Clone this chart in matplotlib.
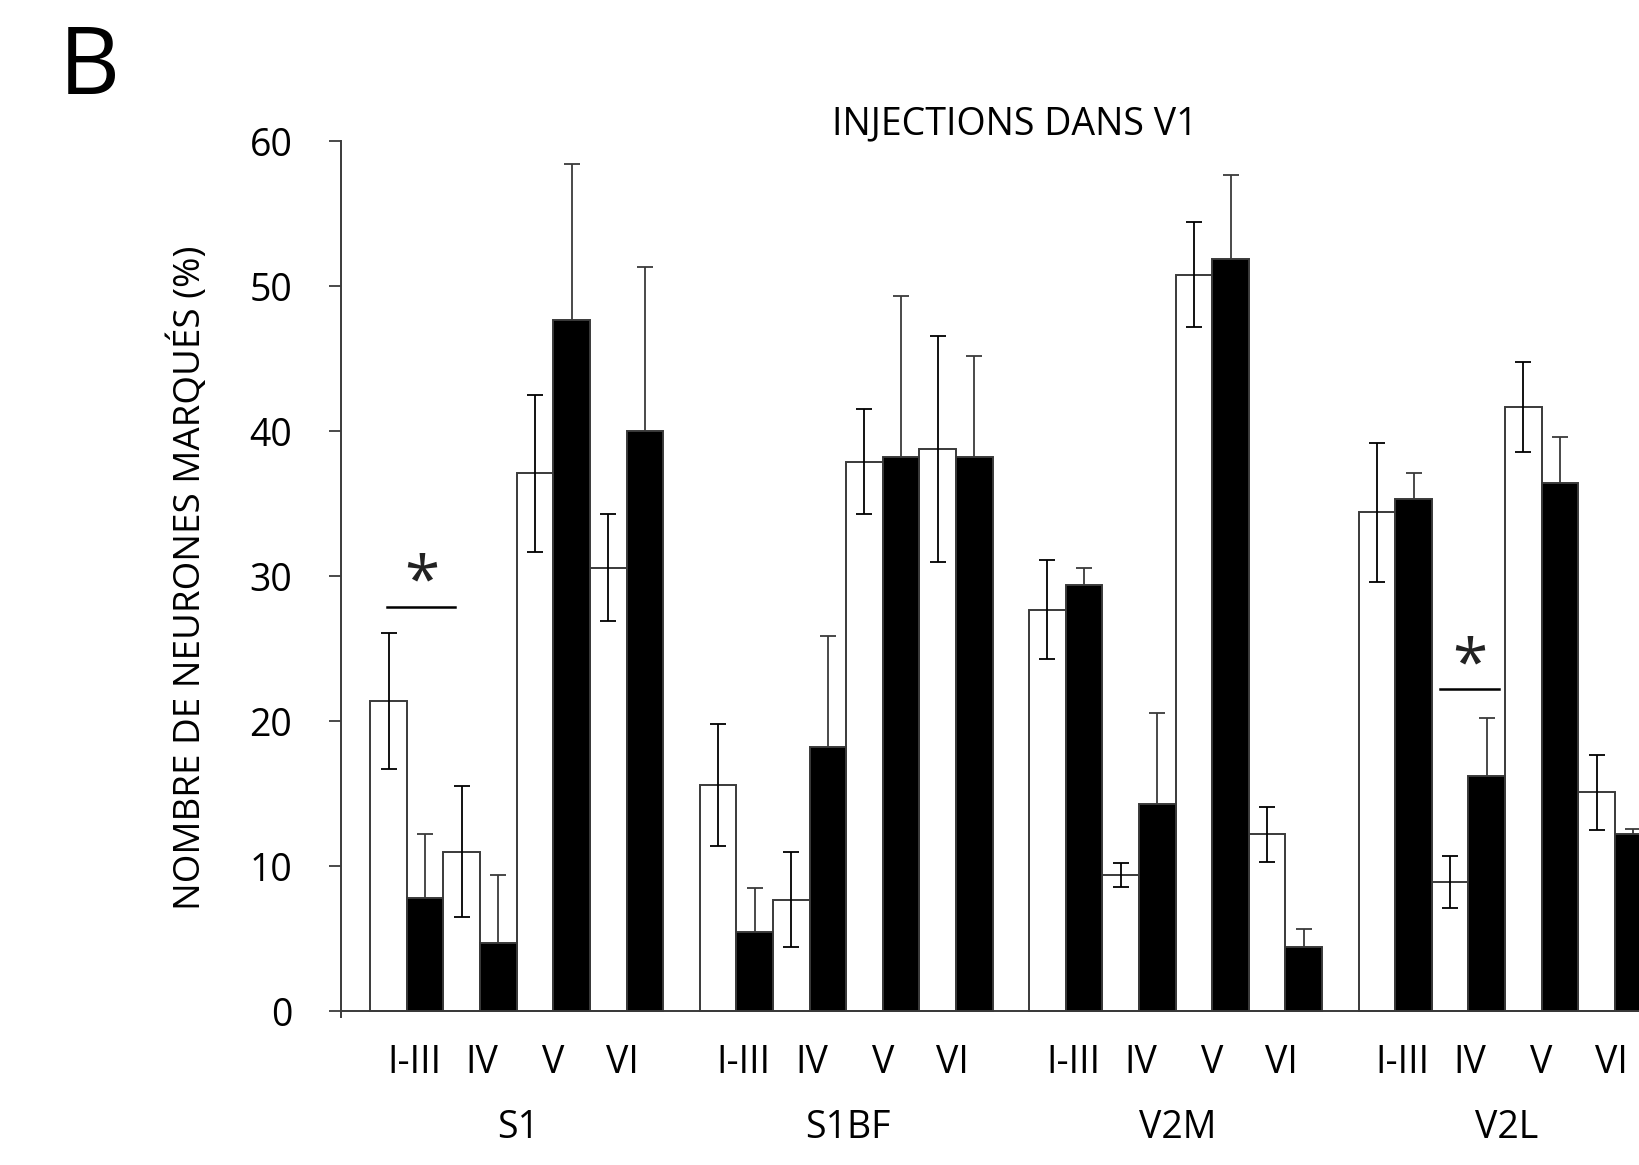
import numpy as np
import matplotlib
matplotlib.use("Agg")
import matplotlib.pyplot as plt
import matplotlib.transforms as mtransforms

plt.rcParams['font.family'] = ['Open Sans', 'DejaVu Sans']

# données
regions = ["S1", "S1BF", "V2M", "V2L"]
couches = ["I-III", "IV", "V", "VI"]

blanc_moy = [
    [21.4, 11.0, 37.1, 30.6],   # S1
    [15.6, 7.7, 37.9, 38.8],    # S1BF
    [27.7, 9.4, 50.8, 12.2],    # V2M
    [34.4, 8.9, 41.7, 15.1],    # V2L
]
blanc_err = [
    [4.7, 4.5, 5.4, 3.7],
    [4.2, 3.3, 3.6, 7.8],
    [3.4, 0.85, 3.6, 1.9],
    [4.8, 1.8, 3.1, 2.6],
]
noir_moy = [
    [7.8, 4.7, 47.7, 40.0],
    [5.5, 18.2, 38.2, 38.2],
    [29.4, 14.3, 51.9, 4.4],
    [35.3, 16.2, 36.4, 12.2],
]
noir_err = [
    [4.4, 4.7, 10.7, 11.3],
    [3.0, 7.7, 11.1, 7.0],
    [1.2, 6.3, 5.8, 1.3],
    [1.8, 4.0, 3.2, 0.4],
]


def main():
    fig = plt.figure(figsize=(16.4, 11.65), dpi=100)

    # l'axe dépasse à droite comme dans l'original (dernière barre coupée)
    x_unit = 35.0 / 1568
    xmin, xmax = -0.8, 36.0
    ymin, ymax = -0.4, 60
    y0 = 1 - 967 / 1114
    y60 = 1 - 135 / 1114
    h = (y60 - y0) * (ymax - ymin) / 60
    bottom = y0 - (0 - ymin) / (ymax - ymin) * h
    ax = fig.add_axes([326 / 1568, bottom, (xmax - xmin) * x_unit, h])

    n_grp = len(regions)
    n_c = len(couches)
    xb, xn, yb, eb, yn, en = [], [], [], [], [], []
    for g in range(n_grp):
        for j in range(n_c):
            xb.append(g * 9 + 2 * j + 0.5)
            xn.append(g * 9 + 2 * j + 1.5)
            yb.append(blanc_moy[g][j])
            eb.append(blanc_err[g][j])
            yn.append(noir_moy[g][j])
            en.append(noir_err[g][j])

    ax.bar(xb, yb, width=1.0, color='white', edgecolor='#3a3a3a', linewidth=1.4, zorder=2)
    ax.bar(xn, yn, width=1.0, color='black', edgecolor='#3a3a3a', linewidth=1.4, zorder=2)
    ax.errorbar(xb, yb, yerr=eb, fmt='none', ecolor='black', elinewidth=1.3,
                capsize=6, capthick=1.3, zorder=3)
    ax.errorbar(xn, yn, yerr=en, fmt='none', ecolor='#3a3a3a', elinewidth=1.3,
                capsize=6, capthick=1.3, zorder=1)

    # significativité
    ax.plot([0.46, 2.31], [27.9, 27.9], color='black', lw=1.8, zorder=4)
    ax.text(1.4, 27.2, "*", fontsize=46, ha='center', va='bottom', zorder=4,
            color='#222222')
    ax.plot([29.23, 30.83], [22.2, 22.2], color='black', lw=1.8, zorder=4)
    ax.text(30.03, 21.5, "*", fontsize=46, ha='center', va='bottom', zorder=4,
            color='#222222')

    ax.set_xlim(xmin, xmax)
    ax.set_ylim(ymin, ymax)
    ax.spines['top'].set_visible(False)
    ax.spines['right'].set_visible(False)
    ax.spines['bottom'].set_position(('data', 0))
    ax.spines['left'].set_bounds(ymin, 60)
    for s in ('left', 'bottom'):
        ax.spines[s].set_color('#3a3a3a')
        ax.spines[s].set_linewidth(1.4)

    ax.set_yticks([0, 10, 20, 30, 40, 50, 60])
    ax.tick_params(axis='y', direction='out', length=9, width=1.3, color='#3a3a3a',
                   labelsize=27, pad=26)
    ax.set_xticks([])

    trans = mtransforms.blended_transform_factory(ax.transData, ax.transAxes)
    decal = [1.2, 3.05, 5.0, 6.9]
    for g, reg in enumerate(regions):
        for j, c in enumerate(couches):
            ax.text(g * 9 + decal[j], -0.052, c, transform=trans, fontsize=27,
                    ha='center', va='center', clip_on=False)
        ax.text(g * 9 + 4.05, -0.127, reg, transform=trans, fontsize=27,
                ha='center', va='center', clip_on=False)

    ax.set_ylabel("NOMBRE DE NEURONES MARQUÉS (%)", fontsize=26.5)
    ax.yaxis.set_label_coords(-0.098, 0.502)

    fig.text(970 / 1568, 1 - 119 / 1114, "INJECTIONS DANS V1", fontsize=27,
             ha='center', va='center')
    fig.text(85 / 1568, 1 - 66 / 1114, "B", fontsize=68, ha='center', va='center')

    fig.savefig("out.png", dpi=100)
    plt.close(fig)


if __name__ == "__main__":
    main()
